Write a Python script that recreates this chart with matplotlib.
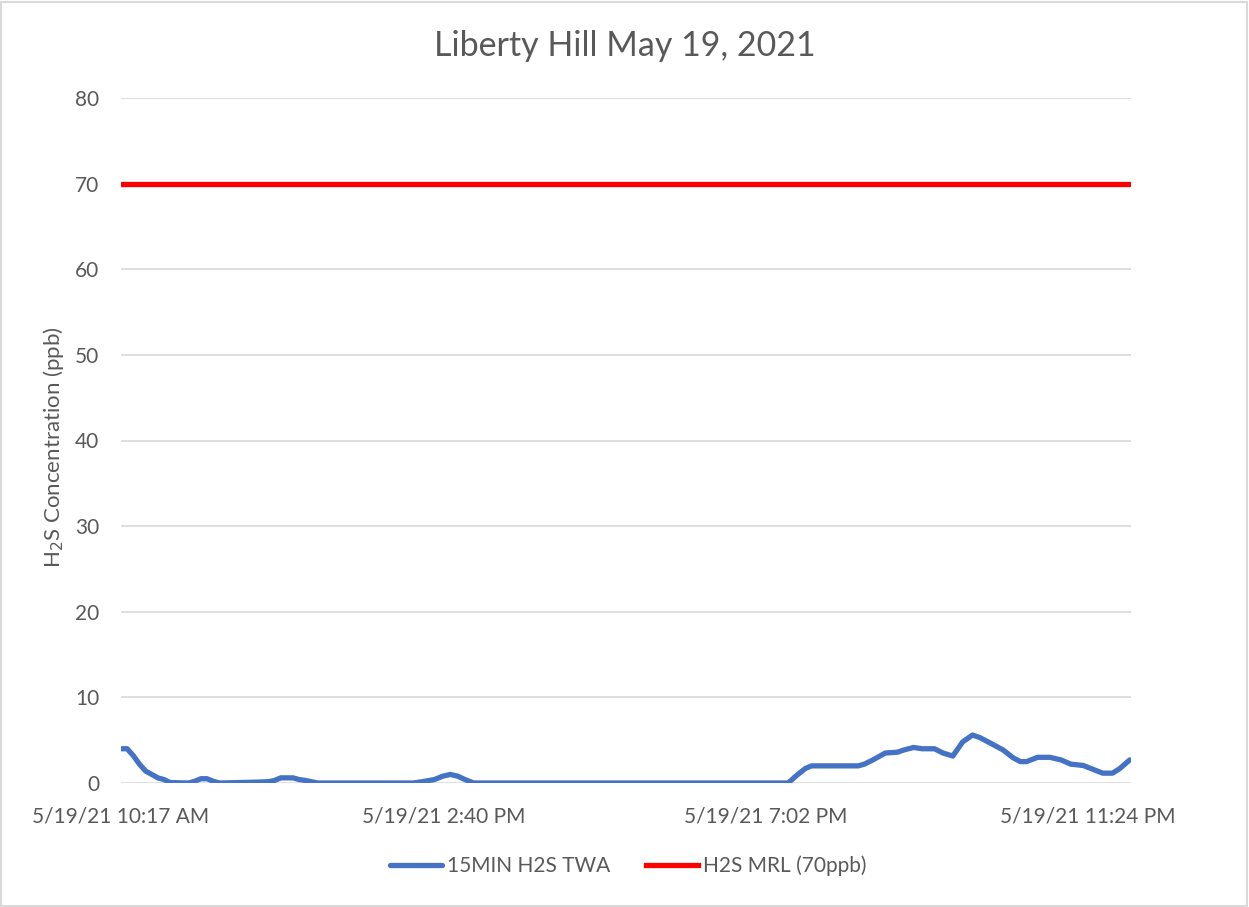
import matplotlib
matplotlib.use("Agg")
import matplotlib.pyplot as plt
from matplotlib.patches import Rectangle

plt.rcParams['font.family'] = ['Lato', 'DejaVu Sans']

title = "Liberty Hill May 19, 2021"
start_time = "10:17"
end_time = "23:59"
tick_times = ["10:17", "14:40", "19:02", "23:24"]
tick_labels = ["5/19/21 10:17 AM", "5/19/21 2:40 PM", "5/19/21 7:02 PM", "5/19/21 11:24 PM"]

twa_times = ["10:17", "10:22", "10:27", "10:32", "10:37", "10:42", "10:47", "10:52", "10:57",
             "11:12", "11:17", "11:22", "11:27", "11:32", "11:37", "12:07", "12:17", "12:22",
             "12:27", "12:37", "12:42", "12:47", "12:52", "12:57", "14:15", "14:22", "14:32",
             "14:39", "14:45", "14:51", "14:57", "15:04", "19:20", "19:27", "19:34", "19:39",
             "20:17", "20:22", "20:29", "20:39", "20:49", "20:54", "21:02", "21:09", "21:19",
             "21:26", "21:34", "21:42", "21:50", "21:56", "22:04", "22:15", "22:23", "22:29",
             "22:34", "22:43", "22:53", "23:02", "23:10", "23:20", "23:28", "23:36", "23:44",
             "23:50", "23:58"]
twa_values = [4.0, 4.0, 3.2, 2.2, 1.4, 1.0, 0.6, 0.4, 0.05,
              0.0, 0.2, 0.5, 0.5, 0.2, 0.0, 0.1, 0.15, 0.3,
              0.6, 0.6, 0.4, 0.3, 0.15, 0.0, 0.0, 0.15, 0.4,
              0.8, 1.0, 0.8, 0.4, 0.0, 0.0, 0.9, 1.7, 2.0,
              2.0, 2.2, 2.7, 3.5, 3.6, 3.85, 4.15, 4.0, 4.0,
              3.5, 3.15, 4.8, 5.6, 5.3, 4.7, 3.85, 2.95, 2.5,
              2.5, 3.0, 3.0, 2.7, 2.2, 2.05, 1.6, 1.15, 1.15,
              1.7, 2.7]
mrl_value = 70
y_ticks = [0, 10, 20, 30, 40, 50, 60, 70, 80]


def minutes(t):
    h, m = t.split(":")
    return int(h) * 60 + int(m)


t0 = minutes(start_time)
x_twa = [minutes(t) - t0 for t in twa_times]
x_end = minutes(end_time) - t0

W, H = 1249, 907
fig = plt.figure(figsize=(W / 100, H / 100), dpi=100)
fig.patches.append(Rectangle((0.001, 0.001), 0.997, 0.997, transform=fig.transFigure,
                             fill=False, edgecolor='#d9d9d9', linewidth=1.5))
ax = fig.add_axes([121 / W, 1 - 783 / H, (1131 - 121) / W, (783 - 98) / H])

text_color = '#595959'
ax.plot(x_twa, twa_values, color='#4472C4', linewidth=3.8, solid_capstyle='round',
        solid_joinstyle='round', label='15MIN H2S TWA', zorder=3)
ax.plot([0, x_end], [mrl_value, mrl_value], color='#FF0000', linewidth=3.8,
        label='H2S MRL (70ppb)', zorder=3)

ax.set_xlim(0, x_end)
ax.set_ylim(0, 80)
ax.set_yticks(y_ticks)
ax.set_xticks([minutes(t) - t0 for t in tick_times])
ax.set_xticklabels(tick_labels)
ax.tick_params(axis='both', length=0, labelsize=15, colors=text_color)
ax.tick_params(axis='y', pad=15.5)
ax.tick_params(axis='x', pad=17)
ax.grid(axis='y', color='#d9d9d9', linewidth=1.2)
ax.set_axisbelow(True)
for s in ax.spines.values():
    s.set_visible(False)

fig.text(53 / W, 1 - 447 / H, "H$_2$S Concentration (ppb)", rotation=90,
         ha='center', va='center', fontsize=16, color=text_color)
fig.text(625 / W, 1 - 46 / H, title, ha='center', va='center', fontsize=24.5,
         color=text_color)

leg = fig.legend(loc='center', bbox_to_anchor=(628 / W, 1 - 866 / H), ncol=2,
                 frameon=False, fontsize=15, handlelength=2.5, handletextpad=0.25,
                 columnspacing=1.7)
for txt in leg.get_texts():
    txt.set_color(text_color)

fig.savefig("out.png", dpi=100)
